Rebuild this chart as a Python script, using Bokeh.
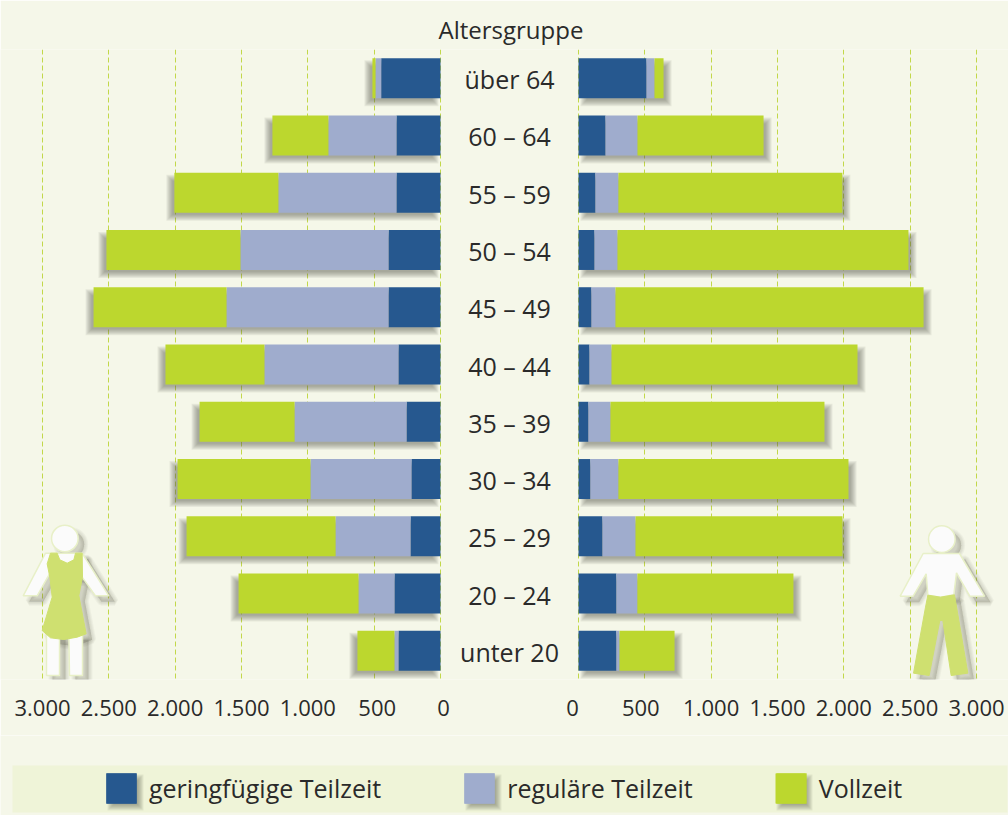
from bokeh.plotting import figure
from bokeh.layouts import column
from bokeh.models import ColumnDataSource, Range1d, FixedTicker, Legend, LegendItem
from bokeh.core.properties import value
from bokeh.embed import file_html
from bokeh.resources import INLINE

ages = ["über 64", "60 – 64", "55 – 59", "50 – 54", "45 – 49", "40 – 44",
        "35 – 39", "30 – 34", "25 – 29", "20 – 24", "unter 20"]
women_marginal = [447, 332, 332, 392, 392, 317, 256, 219, 226, 347, 317]
women_regular = [43, 513, 890, 1116, 1221, 1010, 844, 761, 565, 271, 30]
women_full = [23, 422, 784, 1010, 1002, 746, 716, 1002, 1123, 904, 279]
men_marginal = [513, 204, 128, 121, 98, 83, 75, 90, 181, 286, 286]
men_regular = [60, 241, 173, 173, 181, 166, 166, 211, 249, 158, 23]
men_full = [68, 950, 1688, 2193, 2322, 1854, 1613, 1734, 1560, 1176, 415]
tick_values = [0, 500, 1000, 1500, 2000, 2500, 3000]
tick_labels = ["0", "500", "1.000", "1.500", "2.000", "2.500", "3.000"]
series_names = ["geringfügige Teilzeit", "reguläre Teilzeit", "Vollzeit"]

NAVY, LIGHT, GREEN = "#26588F", "#9FACCD", "#BCD72E"
BG, BAND, INK, SHADOW = "#F5F7E9", "#EFF4D8", "#2A2A2A", "#5A5A4E"
FONT = "Open Sans"

PX = 398 / 3000            # pixels per person
GAP = 138 / PX             # width of the central label column, in data units
ROW = 630 / 11             # pixels per row
rows = list(range(len(ages)))
TOP_H = 735

p = figure(width=1008, height=TOP_H, output_backend="svg", toolbar_location=None,
           x_range=Range1d(-440 / PX, (1008 - 440) / PX),
           y_range=Range1d(10.5, -0.5), y_axis_location=None,
           min_border=0, min_border_left=0, min_border_right=0, min_border_top=49, min_border_bottom=TOP_H - 679,
           background_fill_color=BG, border_fill_color=BG, outline_line_color=None)


def data_x(px):
    return (px - 440) / PX


def data_y(py):
    return (py - 49) / ROW - 0.5


p.title.text = "Altersgruppe"
p.title.align = "left"
p.title.offset = 438
p.title.text_font = FONT
p.title.text_font_size = "24px"
p.title.text_font_style = "normal"
p.title.text_color = INK
p.title.standoff = 7

p.ygrid.visible = False
p.xgrid.ticker = FixedTicker(ticks=[-v for v in tick_values] + [GAP + v for v in tick_values])
p.xgrid.grid_line_color = "#C2D84A"
p.xgrid.grid_line_width = 1
p.xgrid.grid_line_dash = "5 3"

# labels of the innermost ticks sit slightly off their gridlines in the reference
nudge = {0: 3 / PX, 500: 3 / PX}
nudge_r = {0: -6 / PX, 500: -4 / PX}
overrides, ticks = {}, []
for v, lab in zip(tick_values, tick_labels):
    a = -v + nudge.get(v, 0)
    b = GAP + v + nudge_r.get(v, 0)
    ticks += [a, b]
    overrides[a] = lab
    overrides[b] = lab
ax = p.xaxis[0]
ax.ticker = FixedTicker(ticks=ticks)
ax.major_label_overrides = overrides
ax.axis_line_color = None
ax.major_tick_line_color = None
ax.minor_tick_line_color = None
ax.major_label_standoff = 14
ax.major_label_text_font = FONT
ax.major_label_text_font_size = "22px"
ax.major_label_text_color = INK


def accumulate(a, b, c):
    s1 = list(a)
    s2 = [x + y for x, y in zip(a, b)]
    s3 = [x + y for x, y in zip(s2, c)]
    return s1, s2, s3


w1, w2, w3 = accumulate(women_marginal, women_regular, women_full)
m1, m2, m3 = accumulate(men_marginal, men_regular, men_full)
src = ColumnDataSource(dict(
    row=rows, age=ages, x=[GAP / 2] * 11,
    wz=[0] * 11, w1=[-v for v in w1], w2=[-v for v in w2], w3=[-v for v in w3],
    mz=[GAP] * 11, m1=[GAP + v for v in m1], m2=[GAP + v for v in m2], m3=[GAP + v for v in m3]))

# soft drop shadows: stacked translucent rectangles offset away from the centre
BAR_H = 40 / ROW
OFF = 5
for d in (3, 2, 1, 0, -1, -2, -3):
    s = ColumnDataSource(dict(
        y=[r + OFF / ROW for r in rows],
        wl=[-v - (OFF + d) / PX for v in w3], wr=[-(OFF - d) / PX] * 11,
        ml=[GAP + (OFF - d) / PX] * 11, mr=[GAP + v + (OFF + d) / PX for v in m3]))
    h = BAR_H + 2 * d / ROW
    p.hbar(y="y", left="wl", right="wr", height=h, source=s, fill_color=SHADOW, fill_alpha=0.09, line_color=None)
    p.hbar(y="y", left="ml", right="mr", height=h, source=s, fill_color=SHADOW, fill_alpha=0.09, line_color=None)

p.hbar(y="row", left="w1", right="wz", height=BAR_H, source=src, fill_color=NAVY, line_color=None)
p.hbar(y="row", left="w2", right="w1", height=BAR_H, source=src, fill_color=LIGHT, line_color=None)
p.hbar(y="row", left="w3", right="w2", height=BAR_H, source=src, fill_color=GREEN, line_color=None)
p.hbar(y="row", left="mz", right="m1", height=BAR_H, source=src, fill_color=NAVY, line_color=None)
p.hbar(y="row", left="m1", right="m2", height=BAR_H, source=src, fill_color=LIGHT, line_color=None)
p.hbar(y="row", left="m2", right="m3", height=BAR_H, source=src, fill_color=GREEN, line_color=None)

p.text(x="x", y="row", text="age", source=src, text_align="center", text_baseline="middle", y_offset=1,
       text_font=value(FONT), text_font_size="25px", text_color=INK)


# pictograms, traced in reference pixels and converted to data units
def tr(pts, ox, oy, dx=0, dy=0):
    return ([data_x(ox + a / 3 + dx) for a, b in pts], [data_y(oy + b / 3 + dy) for a, b in pts])


def icon(parts, head, ox, oy):
    white, tint = "#FBFBFB", "#CFE070"
    hx, hy = ox + head[0] / 3, oy + head[1] / 3
    rad = 13.3 / PX
    for d in (4, 3, 2, 1, 0):
        for pts, _ in parts:
            xs, ys = tr(pts, ox, oy, 6, 6)
            p.patch(xs, ys, fill_color=SHADOW, fill_alpha=0.05, line_color=SHADOW, line_alpha=0.05,
                    line_width=d * 2)
        p.circle([data_x(hx + 6)], [data_y(hy + 6)], radius=rad, fill_color=SHADOW, fill_alpha=0.05,
                 line_color=SHADOW, line_alpha=0.05, line_width=d * 2)
    for pts, kind in parts:
        xs, ys = tr(pts, ox, oy)
        if kind == "w":
            p.patch(xs, ys, fill_color=white, line_color="#E8F0C8", line_width=1.5)
        else:
            p.patch(xs, ys, fill_color=tint, line_color=tint, line_width=1)
    p.circle([data_x(hx)], [data_y(hy)], radius=rad, fill_color=white, line_color="#E8F0C8", line_width=1.5)


woman = [
    ([(138, 400), (177, 400), (177, 525), (138, 525)], "w"),
    ([(205, 400), (246, 400), (246, 525), (207, 525)], "w"),
    ([(135, 158), (245, 158), (325, 286), (285, 286), (245, 230), (150, 215), (110, 286), (68, 286)], "w"),
    ([(150, 158), (170, 158), (178, 178), (200, 188), (220, 178), (225, 158), (245, 158), (246, 230), (235, 285),
      (257, 400), (230, 410), (190, 417), (150, 412), (125, 390), (155, 290), (148, 230), (140, 190)], "t"),
]
man = [
    ([(428, 159), (537, 159), (612, 287), (568, 287), (528, 217), (520, 283), (480, 290), (442, 284), (437, 220),
      (398, 287), (359, 287)], "w"),
    ([(442, 284), (480, 290), (522, 283), (562, 518), (512, 525), (487, 360), (478, 360), (446, 525), (399, 518),
      (435, 320)], "t"),
]
icon(woman, (193, 114), 0, 500)
icon(man, (484, 116), 780, 500)

# legend strip: its own figure, with ranges in page pixels
q = figure(width=1008, height=815 - TOP_H, output_backend="svg", toolbar_location=None,
           x_range=Range1d(0, 1008), y_range=Range1d(815, TOP_H), x_axis_location=None, y_axis_location=None,
           min_border=0, background_fill_color=BG, border_fill_color=BG, outline_line_color=None)
q.grid.visible = False
q.quad(left=[12], right=[1007], top=[765], bottom=[812], fill_color=BAND, line_color=None)
SW = [106, 464, 775]
for d in (3, 2, 1, 0, -1, -2, -3):
    q.quad(left=[x + 4 - d for x in SW], right=[x + 34 + d for x in SW], top=[777 - d] * 3, bottom=[807 + d] * 3,
           fill_color=SHADOW, fill_alpha=0.09, line_color=None)
swatches = [q.hbar(y=[788], left=[x], right=[x + 30], height=30, fill_color=c, line_color=None)
            for x, c in zip(SW, (NAVY, LIGHT, GREEN))]
legend = Legend(items=[LegendItem(label=n, renderers=[r]) for n, r in zip(series_names, swatches)],
                orientation="horizontal", location=(102, 8), glyph_width=38, glyph_height=38,
                label_standoff=9, spacing=79, padding=0, margin=0, border_line_color=None,
                background_fill_alpha=0, label_text_font=FONT, label_text_font_size="25px",
                label_text_color=INK, label_height=30)
q.add_layout(legend)

open("out.html", "w").write(file_html(column(p, q, spacing=0), INLINE))
